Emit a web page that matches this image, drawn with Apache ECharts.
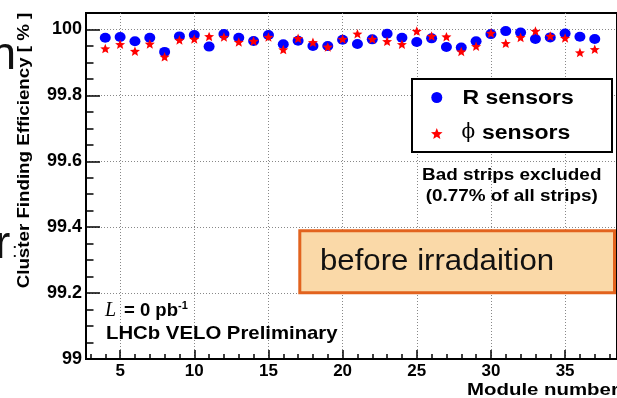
<!DOCTYPE html>
<html>
<head>
<meta charset="utf-8">
<script src="https://cdn.jsdelivr.net/npm/echarts@6/dist/echarts.min.js"></script>
<style>
html,body{margin:0;padding:0;background:#fff;}
#c{width:617px;height:398px;}
</style>
</head>
<body>
<div id="c"></div>
<script>
// ---- data ----
const modules = [4,5,6,7,8,9,10,11,12,13,14,15,16,17,18,19,20,21,22,23,24,25,26,27,28,29,30,31,32,33,34,35,36,37];
const rSensors = [99.975,99.977,99.964,99.975,99.932,99.979,99.983,99.948,99.986,99.975,99.965,99.983,99.955,99.966,99.950,99.950,99.969,99.956,99.970,99.987,99.975,99.962,99.973,99.947,99.945,99.964,99.986,99.995,99.991,99.971,99.976,99.988,99.978,99.971];
const phiSensors = [99.942,99.955,99.934,99.956,99.917,99.968,99.971,99.979,99.977,99.962,99.965,99.977,99.939,99.973,99.961,99.947,99.971,99.987,99.971,99.964,99.955,99.995,99.980,99.978,99.933,99.949,99.989,99.958,99.976,99.995,99.980,99.974,99.930,99.940];
const xTicks = [5,10,15,20,25,30,35];
const xMinorTicks = [3,4,6,7,8,9,11,12,13,14,16,17,18,19,21,22,23,24,26,27,28,29,31,32,33,34,36,37,38];
const yTicks = [99,99.2,99.4,99.6,99.8,100];
const yMinorTicks = [99.05,99.1,99.15,99.25,99.3,99.35,99.45,99.5,99.55,99.65,99.7,99.75,99.85,99.9,99.95];
const seriesNames = ['R sensors', 'ϕ sensors'];

const F = 'Liberation Sans, Arial, Helvetica, sans-serif';
const STAR = 'path://M50 0 L62.93 32.2 L97.55 34.55 L70.92 56.8 L79.39 90.45 L50 72 L20.61 90.45 L29.08 56.8 L2.45 34.55 L37.07 32.2 Z';

const chart = echarts.init(document.getElementById('c'), null, {renderer:'canvas'});
const XMIN = 2.7, XMAX = 38.5, YMIN = 99, YMAX = 100.05;

chart.setOption({
  animation: false,
  backgroundColor: '#fff',
  grid: {left: 86, top: 13, right: -14, bottom: 39, show: true, borderColor: '#000', borderWidth: 2, backgroundColor: 'transparent'},
  xAxis: [{
    type: 'value', min: XMIN, max: XMAX, position: 'bottom',
    axisLine: {show: true, onZero: false, lineStyle: {color: '#000', width: 2}},
    axisTick: {show: true, inside: true, length: 9, customValues: xTicks, lineStyle: {color: '#000', width: 1.5}},
    axisLabel: {show: true, customValues: xTicks, margin: 4, color: '#000', fontFamily: F, fontWeight: 'bold', fontSize: 17},
    splitLine: {show: true, lineStyle: {color: '#888', width: 1, type: [1, 2]}}
  }, {
    type: 'value', min: XMIN, max: XMAX, position: 'bottom', gridIndex: 0,
    axisLine: {show: false},
    axisTick: {show: true, inside: true, length: 5, customValues: xMinorTicks, lineStyle: {color: '#000', width: 1.5}},
    axisLabel: {show: false},
    splitLine: {show: false}
  }],
  yAxis: [{
    type: 'value', min: YMIN, max: YMAX, position: 'left',
    axisLine: {show: true, onZero: false, lineStyle: {color: '#000', width: 2}},
    axisTick: {show: true, inside: true, length: 14, customValues: yTicks, lineStyle: {color: '#000', width: 1.5}},
    axisLabel: {show: true, customValues: yTicks, margin: 4, color: '#000', fontFamily: F, fontWeight: 'bold', fontSize: 18},
    splitLine: {show: true, lineStyle: {color: '#888', width: 1, type: [1, 2]}}
  }, {
    type: 'value', min: YMIN, max: YMAX, position: 'left', gridIndex: 0,
    axisLine: {show: false},
    axisTick: {show: true, inside: true, length: 7.5, customValues: yMinorTicks, lineStyle: {color: '#000', width: 1.5}},
    axisLabel: {show: false},
    splitLine: {show: false}
  }],
  legend: {
    orient: 'vertical', left: 426, top: 82, padding: 5,
    itemWidth: 12, itemHeight: 11, itemGap: 15, z: 6,
    data: seriesNames,
    selectedMode: false,
    formatter: function () { return ' '; },
    textStyle: {color: '#000', fontFamily: F, fontSize: 21}
  },
  graphic: [
    {type: 'rect', z: 3, shape: {x: 412, y: 79, width: 200, height: 73}, style: {fill: '#fff', stroke: '#000', lineWidth: 2}},
    {type: 'text', z: 7, x: 462.5, y: 98, scaleX: 1.15, style: {text: seriesNames[0], fontFamily: F, fontWeight: 'bold', fontSize: 20, fill: '#000', align: 'left', verticalAlign: 'middle'}},
    {type: 'text', z: 7, x: 461.5, y: 133, style: {text: 'ϕ', fontFamily: 'DejaVu Serif, serif', fontSize: 20, fill: '#000', align: 'left', verticalAlign: 'middle'}},
    {type: 'text', z: 7, x: 482, y: 133, scaleX: 1.15, style: {text: 'sensors', fontFamily: F, fontWeight: 'bold', fontSize: 20, fill: '#000', align: 'left', verticalAlign: 'middle'}},
    {type: 'rect', z: 3, shape: {x: 299.8, y: 230.8, width: 314.7, height: 62}, style: {fill: '#FAD9A8', stroke: '#E2631E', lineWidth: 3}},
    {type: 'text', z: 4, x: 320, y: 261.3, style: {text: 'before irradaition', fontFamily: F, fontSize: 30, fill: '#111', align: 'left', verticalAlign: 'middle'}, scaleX: 1.04},
    {type: 'text', z: 4, x: 511.7, y: 175.2, scaleX: 1.18, style: {text: 'Bad strips excluded', fontFamily: F, fontWeight: 'bold', fontSize: 16, fill: '#000', align: 'center', verticalAlign: 'middle'}},
    {type: 'text', z: 4, x: 511.7, y: 196.2, scaleX: 1.18, style: {text: '(0.77% of all strips)', fontFamily: F, fontWeight: 'bold', fontSize: 16, fill: '#000', align: 'center', verticalAlign: 'middle'}},
    {type: 'text', z: 4, x: 105, y: 310.5, style: {text: 'L', fontFamily: 'Liberation Serif, Times New Roman, serif', fontStyle: 'italic', fontSize: 20, fill: '#000', align: 'left', verticalAlign: 'middle'}},
    {type: 'text', z: 4, x: 124, y: 310.8, style: {text: '= 0 pb', fontFamily: F, fontWeight: 'bold', fontSize: 18.5, fill: '#000', align: 'left', verticalAlign: 'middle'}},
    {type: 'text', z: 4, x: 178, y: 306, style: {text: '-1', fontFamily: F, fontWeight: 'bold', fontSize: 11, fill: '#000', align: 'left', verticalAlign: 'middle'}},
    {type: 'text', z: 4, x: 106, y: 333.4, scaleX: 1.07, style: {text: 'LHCb VELO Preliminary', fontFamily: F, fontWeight: 'bold', fontSize: 19, fill: '#000', align: 'left', verticalAlign: 'middle'}},
    {type: 'text', z: 4, x: 467, y: 390.6, scaleX: 1.2, style: {text: 'Module number', fontFamily: F, fontWeight: 'bold', fontSize: 17, fill: '#000', align: 'left', verticalAlign: 'middle'}},
    {type: 'text', z: 4, x: 24.5, y: 150.5, rotation: Math.PI / 2, scaleX: 1.17, style: {text: 'Cluster Finding Efficiency [ % ]', fontFamily: F, fontWeight: 'bold', fontSize: 16, fill: '#000', align: 'center', verticalAlign: 'middle'}},
    {type: 'text', z: 4, x: -9.5, y: 56, style: {text: 'n', fontFamily: F, fontSize: 46, fill: '#111', align: 'left', verticalAlign: 'middle'}},
    {type: 'text', z: 4, x: -5, y: 245, style: {text: 'r', fontFamily: F, fontSize: 46, fill: '#111', align: 'left', verticalAlign: 'middle'}},
    {type: 'text', z: 4, x: 12, y: 251, style: {text: ':', fontFamily: F, fontSize: 20, fill: '#111', align: 'left', verticalAlign: 'middle'}}
  ],
  series: [
    {
      name: seriesNames[0], type: 'scatter', xAxisIndex: 0, yAxisIndex: 0, z: 5,
      symbol: 'circle', symbolSize: [11, 10],
      itemStyle: {color: '#0000ff', opacity: 1},
      data: modules.map((m, i) => [m, rSensors[i]])
    },
    {
      name: seriesNames[1], type: 'scatter', xAxisIndex: 0, yAxisIndex: 0, z: 5,
      symbol: STAR, symbolSize: [10, 9.5],
      itemStyle: {color: '#ff0000', opacity: 1},
      data: modules.map((m, i) => [m, phiSensors[i]])
    }
  ]
});
</script>
</body>
</html>
